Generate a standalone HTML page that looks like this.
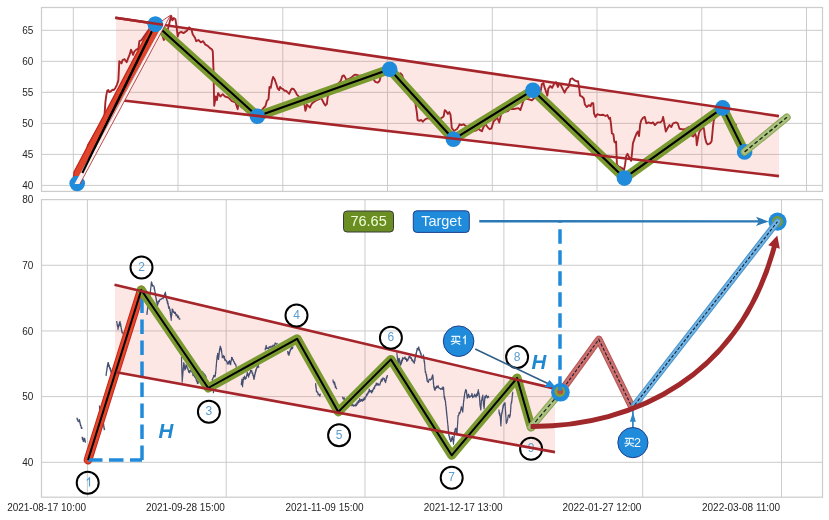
<!DOCTYPE html>
<html><head><meta charset="utf-8"><style>
html,body{margin:0;padding:0;background:#fff;width:829px;height:520px;overflow:hidden}
svg{display:block;filter:blur(0.25px)}
text{font-family:"Liberation Sans",sans-serif}
.tk{font-size:10px;fill:#262626}
.num{font-size:12px;fill:#5a9dd0}
.H{font-size:20.5px;font-weight:bold;font-style:italic;fill:#2189d0}
.lb{font-size:14.5px}
.bt{font-size:12.5px;fill:#f4f8ff}
</style></head><body>
<svg width="829" height="520" viewBox="0 0 829 520">
<rect width="829" height="520" fill="#fff"/>
<line x1="41.5" y1="185.4" x2="822.5" y2="185.4" stroke="#cbcbcb"/>
<line x1="41.5" y1="154.38" x2="822.5" y2="154.38" stroke="#cbcbcb"/>
<line x1="41.5" y1="123.36" x2="822.5" y2="123.36" stroke="#cbcbcb"/>
<line x1="41.5" y1="92.34" x2="822.5" y2="92.34" stroke="#cbcbcb"/>
<line x1="41.5" y1="61.32" x2="822.5" y2="61.32" stroke="#cbcbcb"/>
<line x1="41.5" y1="30.3" x2="822.5" y2="30.3" stroke="#cbcbcb"/>
<line x1="73.3" y1="7.5" x2="73.3" y2="191.4" stroke="#cbcbcb"/>
<line x1="178.0" y1="7.5" x2="178.0" y2="191.4" stroke="#cbcbcb"/>
<line x1="282.8" y1="7.5" x2="282.8" y2="191.4" stroke="#cbcbcb"/>
<line x1="387.5" y1="7.5" x2="387.5" y2="191.4" stroke="#cbcbcb"/>
<line x1="492.3" y1="7.5" x2="492.3" y2="191.4" stroke="#cbcbcb"/>
<line x1="597.0" y1="7.5" x2="597.0" y2="191.4" stroke="#cbcbcb"/>
<line x1="701.8" y1="7.5" x2="701.8" y2="191.4" stroke="#cbcbcb"/>
<line x1="806.5" y1="7.5" x2="806.5" y2="191.4" stroke="#cbcbcb"/>
<line x1="41.5" y1="462.3" x2="822.5" y2="462.3" stroke="#cbcbcb"/>
<line x1="41.5" y1="396.62" x2="822.5" y2="396.62" stroke="#cbcbcb"/>
<line x1="41.5" y1="330.95" x2="822.5" y2="330.95" stroke="#cbcbcb"/>
<line x1="41.5" y1="265.27" x2="822.5" y2="265.27" stroke="#cbcbcb"/>
<line x1="87.4" y1="199.6" x2="87.4" y2="497.2" stroke="#cbcbcb"/>
<line x1="226.2" y1="199.6" x2="226.2" y2="497.2" stroke="#cbcbcb"/>
<line x1="365.0" y1="199.6" x2="365.0" y2="497.2" stroke="#cbcbcb"/>
<line x1="503.9" y1="199.6" x2="503.9" y2="497.2" stroke="#cbcbcb"/>
<line x1="642.7" y1="199.6" x2="642.7" y2="497.2" stroke="#cbcbcb"/>
<line x1="781.5" y1="199.6" x2="781.5" y2="497.2" stroke="#cbcbcb"/>
<rect x="41.5" y="7.5" width="781" height="183.9" fill="none" stroke="#cdcdcd" stroke-width="1.25"/>
<rect x="41.5" y="199.6" width="781" height="297.6" fill="none" stroke="#cdcdcd" stroke-width="1.25"/>
<text x="33.3" y="189" text-anchor="end" class="tk">40</text>
<text x="33.3" y="157.98" text-anchor="end" class="tk">45</text>
<text x="33.3" y="126.96" text-anchor="end" class="tk">50</text>
<text x="33.3" y="95.94" text-anchor="end" class="tk">55</text>
<text x="33.3" y="64.92" text-anchor="end" class="tk">60</text>
<text x="33.3" y="33.9" text-anchor="end" class="tk">65</text>
<text x="33.3" y="465.9" text-anchor="end" class="tk">40</text>
<text x="33.3" y="400.23" text-anchor="end" class="tk">50</text>
<text x="33.3" y="334.55" text-anchor="end" class="tk">60</text>
<text x="33.3" y="268.88" text-anchor="end" class="tk">70</text>
<text x="33.3" y="203.2" text-anchor="end" class="tk">80</text>
<text x="86.1" y="511.3" text-anchor="end" class="tk">2021-08-17 10:00</text>
<text x="224.9" y="511.3" text-anchor="end" class="tk">2021-09-28 15:00</text>
<text x="363.7" y="511.3" text-anchor="end" class="tk">2021-11-09 15:00</text>
<text x="502.6" y="511.3" text-anchor="end" class="tk">2021-12-17 13:00</text>
<text x="641.4" y="511.3" text-anchor="end" class="tk">2022-01-27 12:00</text>
<text x="780.2" y="511.3" text-anchor="end" class="tk">2022-03-08 11:00</text>
<polygon points="116,17.8 779,116.11 779,176.09 116,99.63" fill="rgba(235,110,95,0.17)"/>
<polyline points="88.5,158 87,149 88,145 91,140 95,133 100,125 104.4,116.5 105.4,102.1 106.3,95.4 107.3,90.6 108.3,90.1 109.2,92 110.7,91.5 112.6,89.6 113.6,90.1 114.5,89.1 115.5,87.7 116.9,84.8 117.9,81.9 118.4,80 119.3,61.3 121.5,63.4 122.5,60.2 124.6,59.2 126.7,62.3 127.8,59.2 129.9,53.9 131,49.6 133.1,54.9 134.2,51.7 136.3,49.6 138.4,48.6 139.4,41.2 141.6,40.1 145,35 150,28 155,22 160,30 162.7,36.5 163.8,40 165,36.5 167.3,31.9 170.3,19.2 171.2,15.8 172.4,20.4 173.8,18.1 175.4,19.2 176.5,26.2 177.7,36.5 178.8,33.1 181.2,31.9 183.5,33.1 186.9,30.8 189.2,27.3 191.5,29.6 192.7,34.2 195,37.7 196.2,41.2 198.5,40 200.8,42.3 203.1,41.2 205.4,44.6 207.7,45.8 210,48.1 211.8,49.2 212.8,51.5 213.5,70 214.2,105.8 215.8,96.5 216.9,100 218.1,93.1 220.4,96.5 222.7,94.2 225,96.5 228.5,97.7 231.9,101.2 235.4,102.3 237.7,109.2 238.8,102.3 241.2,106.9 244.6,109.2 246.9,111.5 249.2,112.7 253,114 258,112 262,110 263.8,107.7 265.4,106.2 266.9,100.8 268.5,99.2 269.5,86.9 270.8,87.7 272,80.8 273.1,76.9 274.6,79.2 276.2,83.8 277.7,88.5 279.2,90 280,86.9 281.5,88.5 283.1,89.2 284.6,90.8 286.2,90.8 287.7,92.3 289.2,93.8 290.8,90 292.3,88.5 293.8,89.2 295.4,91.5 296.9,94.6 298.5,96.2 301,100 303.8,103.1 304.6,105.4 305.4,110.8 306.2,108.5 306.9,104.6 308.5,106.2 310,107.7 310.8,105.4 312.3,103.1 314.6,101.5 316.9,100 319.2,99.2 320.8,97.7 322.3,100 323.8,103.1 325.4,105.4 326.9,103.8 327.7,96.9 330,92 334,88 338,84 340.8,80.8 342.3,76.2 343.8,75.4 345.4,77.7 346.2,80 349,79 352,77 353.8,75.4 355.4,74.6 358.5,75.4 362,76 366,77 370,77.5 373.5,79.2 375.2,81.8 377.8,82.7 379.5,81 381.3,74 385,71 390,70 395,72 398.6,74.9 400.3,73.2 402,74.9 402.9,77.5 405,85 407.5,92 409.8,96.6 411.6,99.2 413.3,100 415.4,103.5 416.8,112.1 417.6,119.9 419.4,120.8 421.1,119.9 422.8,121.7 425.4,119.1 428,118.2 432,119 436,121 440,119 443.6,116.5 444.8,110.1 446.2,111.3 447.9,113.9 449.3,112.1 450.5,114.7 451.4,123.4 451.7,127.7 454,131 457,129 458.3,126.9 459.7,124.3 461.4,125.1 463.5,124.3 467,127 470,129 473.9,131.2 476.5,130.3 479.1,128.6 480,130.2 481.9,131.2 483.8,126.3 485.8,124.4 487.7,127.3 489.6,129.2 491.5,128.3 493.5,121.5 495.4,119.6 497.3,117.7 499.2,122.5 501.2,113.8 504,112 507.9,111 509.8,109 514,109 518.5,108.1 520.4,110 522.3,104.2 524.2,98.5 528,99 531.9,100.4 533.8,98.5 537.7,96.5 540.6,91.7 541.9,84 543.5,83.1 544.4,86.9 545.4,89.8 547.3,95.6 548.3,88.8 550.2,86 552.1,87.9 554,84 556,82.1 557.9,86.9 558.8,84 560.8,85 562.7,88.8 564.6,92.7 566.5,88.8 568.5,86.9 570.4,79.2 572.3,78.3 574.2,80.2 576.2,81.2 578.1,81.2 579,86.9 580,95.6 581.9,96.5 583.8,98.5 584.8,104.2 586.7,107.1 588.7,105.2 590.6,106.2 591.8,103.2 593.3,103.2 594,113.3 595.5,116.9 597.3,114.2 600,115.1 602.8,114.7 605.5,116 607.4,115.1 609.2,118.8 610.1,117.8 611,124.2 611.9,133.4 613.4,134.3 614.3,141.6 615.2,142.5 616.1,141.6 616.9,164.4 618.3,166.3 620.1,167.2 622,168.1 622.9,169 624,170 625.1,164.4 626.2,156.2 627.5,153.8 628.7,156.2 630.2,159 631.1,160.8 632,153.5 632.9,143.4 634.8,137.9 636.6,133.4 637.9,131.5 639,136.1 640.2,124.2 641.2,120.6 643,117.8 644.8,116.9 646.3,123.3 648.5,122.4 651.2,123.3 653,122.4 654.9,125.1 657.6,122.4 660.3,122.4 662.2,120.6 663.1,116.9 664,121.5 665.8,131.5 667.7,127.9 669.5,125.1 671.3,127 673.1,123.3 675.9,122.4 677.7,123.3 679.5,128.8 683,129.5 685.9,128.8 688.7,127 691.4,135.2 692.1,135.8 693.5,136.5 694.8,133.1 696.2,136.5 696.8,145.2 697.5,141.2 698.9,133.1 700.2,130.4 702.2,128.4 703.6,127.7 704.2,130.4 704.9,137.1 706.3,142.5 707.6,144.5 709,143.9 710.3,143.2 711.6,141.2 712.3,134.4 713,126.4 713.7,121 714.3,119 718,114 722,110 728,116 733,122 736.6,125.7" fill="none" stroke="#a5252a" stroke-width="1.9" stroke-linejoin="round"/>
<polygon points="72.8,183.5 74.03,172 150.94,26 162.22,26 76.8,183.5" fill="#e0442a"/>
<polyline points="72.8,183.5 74.03,172 150.94,26" fill="none" stroke="#c4261c" stroke-width="1.3"/>
<line x1="77.2" y1="183.5" x2="155.4" y2="24.2" stroke="#000" stroke-width="2.1"/>
<polyline points="155.4,24.2 257.4,116.2 389.7,69.3 453.4,139.3 532.9,90.2 624.4,178.1 722.7,107.9 744.6,151.9" fill="none" stroke="#7a9a30" stroke-width="9.5" stroke-linejoin="round" stroke-linecap="round"/>
<polyline points="155.4,24.2 257.4,116.2 389.7,69.3 453.4,139.3 532.9,90.2 624.4,178.1 722.7,107.9 744.6,151.9" fill="none" stroke="#000" stroke-width="2.1" stroke-linejoin="round"/>
<circle cx="77.2" cy="183.5" r="7.8" fill="#1f8bda"/>
<circle cx="155.4" cy="24.2" r="7.8" fill="#1f8bda"/>
<circle cx="257.4" cy="116.2" r="7.8" fill="#1f8bda"/>
<circle cx="389.7" cy="69.3" r="7.8" fill="#1f8bda"/>
<circle cx="453.4" cy="139.3" r="7.8" fill="#1f8bda"/>
<circle cx="532.9" cy="90.2" r="7.8" fill="#1f8bda"/>
<circle cx="624.4" cy="178.1" r="7.8" fill="#1f8bda"/>
<circle cx="722.7" cy="107.9" r="7.8" fill="#1f8bda"/>
<circle cx="744.6" cy="151.9" r="7.8" fill="#1f8bda"/>
<line x1="115.3" y1="17.7" x2="779" y2="116.11" stroke="#a5252a" stroke-width="2.6"/>
<line x1="121" y1="100.21" x2="779" y2="176.09" stroke="#a5252a" stroke-width="2.6"/>
<polygon points="74.53,184 79.87,184 170.5,15.2 161.5,21.2 160.33,28" fill="#fdf1ef"/>
<polyline points="79.87,184 170.5,15.2 161.5,21.2" fill="none" stroke="#a5252a" stroke-width="0.8" stroke-linejoin="miter"/>
<line x1="94.17" y1="150" x2="159.25" y2="30" stroke="#a5252a" stroke-width="0.6"/>
<line x1="82.35" y1="173" x2="147.64" y2="40" stroke="#000" stroke-width="2.1"/>
<circle cx="155.4" cy="24.2" r="7.8" fill="#1f8bda"/>
<line x1="115.3" y1="17.7" x2="163" y2="24.77" stroke="#a5252a" stroke-width="2.6"/>
<line x1="744.6" y1="151.9" x2="786.9" y2="117.3" stroke="#8ea75a" stroke-width="7.6" stroke-linecap="round"/>
<line x1="744.6" y1="151.9" x2="786.9" y2="117.3" stroke="#abc380" stroke-width="5.4" stroke-linecap="round"/>
<line x1="744.6" y1="151.9" x2="786.9" y2="117.3" stroke="#1e2410" stroke-width="1.4" stroke-dasharray="4 2.4"/>
<polygon points="115,284.93 555,388.64 555,452.14 115,372.08" fill="rgba(235,110,95,0.17)"/>
<polyline points="76.9,417.67 77.3,419.81 77.7,419.05 78.1,421.51 78.5,420.99 79,421.79 79.5,419.61 79.7,421.97 79.9,421.63 80.1,423.88 80.3,423.59 80.5,425.44 80.9,425.09 81.3,428.28 81.7,427.37 82.1,428.8" fill="none" stroke="#454f70" stroke-width="1.2" stroke-linejoin="round"/>
<polyline points="82.1,436.79 82.45,439.42 82.8,437.67 83.15,441.16 83.5,440.17 83.83,441.57 84.17,438.62 84.5,439.42 84.72,438.23 84.94,440.34 85.16,440.29 85.38,442.39 85.6,442.6" fill="none" stroke="#454f70" stroke-width="1.2" stroke-linejoin="round"/>
<polyline points="99.4,405.54 99.6,408.34 99.8,407.61 100,410.7 100.2,409.65 100.4,412.36 100.6,411.82 100.8,413.51 101,413.42 101.25,416.19 101.5,415.13 101.75,417.72 102,416.93 102.25,419.9 102.5,419.3 102.69,422.25 102.88,420.6 103.07,423.36 103.26,422.58 103.45,425.54 103.65,424.01 103.84,427.62 104.03,426.58 104.22,429.76 104.41,428.62 104.6,430" fill="none" stroke="#454f70" stroke-width="1.2" stroke-linejoin="round"/>
<polyline points="106,374.14 106.15,375.37 106.31,372.64 106.46,373.18 106.62,370.94 106.77,371.56 106.92,368.16 107.08,369.59 107.23,366.17 107.38,367.41 107.54,364.56 107.69,365.93 107.85,362.86 108,363.9 108.4,362.6 108.8,366.53 109.2,365.07 109.6,368.17 110,367.6 110.3,370.12 110.6,368.65 110.9,372.29 111.2,370.23 111.5,373.18 111.8,372.59 112.1,375.48 112.4,374.85 112.7,377.01 113,377" fill="none" stroke="#454f70" stroke-width="1.2" stroke-linejoin="round"/>
<polyline points="116.7,320.96 116.89,322.9 117.07,322.96 117.26,325.59 117.44,324.73 117.63,326.78 117.81,326.25 118,329.44 118.29,326.72 118.57,327.18 118.86,324.41 119.14,326.02 119.43,322.35 119.71,324.28 120,321.32 120.18,323.76 120.36,323.04 120.55,326.18 120.73,324.09 120.91,327.06 121.09,326.91 121.27,328.98 121.45,328.65 121.64,331.12 121.82,330.02 122,332.66 122.68,332.35 123.36,334.22 124.04,333.25 124.72,335.76 125.4,335.4" fill="none" stroke="#454f70" stroke-width="1.2" stroke-linejoin="round"/>
<polyline points="146.9,312.66 147.02,314.48 147.14,311.38 147.26,312.55 147.38,309.33 147.5,309.99 147.62,307.21 147.74,309.08 147.86,305.4 147.98,307.26 148.1,304.18 148.27,304.92 148.45,302.73 148.62,303.4 148.79,300.96 148.96,300.86 149.14,298.96 149.31,299.16 149.48,296.97 149.65,297.21 149.83,295.59 150,295.51 150.11,293.61 150.21,293.91 150.32,291.84 150.43,292.7 150.54,289.22 150.64,289.9 150.75,287.81 150.86,288.28 150.96,285.79 151.07,286.12 151.18,283.3 151.29,285.36 151.39,281.92 151.5,282.84 151.74,282.39 151.98,284.19 152.22,283.9 152.46,286.24 152.7,285.12 153.8,285.93 153.97,286.01 154.14,288.86 154.31,287.28 154.48,289.75 154.65,289.18 154.82,291.51 154.99,291.12 155.16,294.65 155.33,292.61 155.5,296.21 155.66,295.25 155.83,297.61 155.99,297.19 156.15,299.94 156.32,298.54 156.48,301.77 156.65,300.62 156.81,302.88 156.97,301.82 157.14,305.67 157.3,303.59 157.6,305.48 157.9,301.88 158.2,303.64 158.5,300.89 159.27,301.72 160.03,299.19 160.8,299.56 161.95,298.29 163.1,298.78 163.56,296.53 164.02,297.47 164.48,293.8 164.94,295.31 165.4,291.98 165.58,296.03 165.77,293.86 165.95,297.14 166.13,296.7 166.32,298.86 166.5,298.63 166.8,300.66 167.1,299.83 167.4,303.3 167.7,301.3 167.92,304.55 168.14,303.38 168.36,306.8 168.58,305.95 168.8,308.47 169.4,306.97 170,310.92 170.12,309.24 170.24,312.37 170.36,311.81 170.48,314.61 170.6,313.45 170.72,316.47 170.84,314.48 170.96,317.79 171.08,317.05 171.2,320.33 171.31,316.63 171.42,317.5 171.53,315.56 171.64,315.63 171.75,312.72 171.86,314.63 171.97,311.85 172.08,312.82 172.19,308.95 172.3,310.76 172.88,309.71 173.45,312.37 174.03,311.74 174.6,313.44 175.37,312.3 176.13,315.78 176.9,314.41 177.67,317.68 178.43,316.06 179.2,319.14 180.4,318.8" fill="none" stroke="#454f70" stroke-width="1.2" stroke-linejoin="round"/>
<polyline points="181.5,356.72 181.53,359.61 181.56,359.31 181.58,361.57 181.61,361.17 181.64,363.79 181.67,362.99 181.7,365.42 181.72,365 181.75,367.9 181.78,366.57 181.81,369.17 181.84,368.12 181.86,371.59 181.89,370.18 181.92,373.45 181.95,371.92 181.98,374.81 182,373.74 182.03,376 182.06,375.7 182.09,378.06 182.12,378.1 182.14,380.69 182.17,379.74 182.2,382.13 182.28,379.03 182.36,380.38 182.44,377.69 182.52,378.48 182.6,375.54 182.68,376.97 182.76,374.27 182.84,374.84 182.92,372.24 183,372.62 183.08,369.72 183.16,371.07 183.24,368.14 183.32,369.54 183.4,365.84 183.48,367.29 183.56,364.37 183.64,365.52 183.72,362.65 183.8,363.91 183.97,362.79 184.14,365.67 184.31,364.73 184.49,368.17 184.66,366.41 184.83,370.06 185,368.07 185.24,369.33 185.48,366.72 185.72,368.37 185.96,364.52 186.2,365.5 186.75,365.67 187.3,368.19 187.64,367.83 187.98,369.81 188.32,369.71 188.66,372.24 189,370.68 189.67,372.8 190.33,370.15 191,371.24 191.5,369.83 192,372.5 192.5,371.55 193,375.56 193.8,374.23 194.6,377.21 195.4,375.67 195.69,378.32 195.97,376.66 196.26,380.51 196.55,379.47 196.84,381.75 197.12,380.77 197.41,383.38 197.7,382.93 198.08,383.31 198.47,380.42 198.85,381.09 199.23,378.8 199.62,379.8 200,377.66 200.33,377.87 200.66,375.14 200.99,376.36 201.31,374.11 201.64,375.22 201.97,371.44 202.3,373.46 202.87,372.15 203.43,373.96 204,373.63 204.6,376.15 205.2,375 205.8,376.99 205.96,376.64 206.11,379.99 206.27,378.13 206.43,381.15 206.59,380.99 206.74,384 206.9,383.5" fill="none" stroke="#454f70" stroke-width="1.2" stroke-linejoin="round"/>
<polyline points="212,378.95 212.45,380.34 212.9,377.82 213.35,377.77 213.8,375.3 215,376.96 215.18,374.69 215.35,375.62 215.52,371.97 215.7,373.45 215.78,370.75 215.86,371.67 215.94,368.92 216.02,369.82 216.11,366.57 216.19,367.3 216.27,364.6 216.35,366.21 216.43,363.11 216.51,363.34 216.59,360.93 216.68,361.63 216.76,359.61 216.84,359.68 216.92,357.84 217,357.88 217.23,355.68 217.47,356.21 217.7,353.31 217.82,356.19 217.93,355.44 218.05,357.85 218.17,357.44 218.28,359.44 218.4,359.36 218.51,359.44 218.62,356.94 218.72,358.33 218.83,355.84 218.94,356.43 219.05,353.08 219.16,354.16 219.27,351.43 219.38,352.77 219.48,350.05 219.59,351.49 219.7,348.38 219.93,349.27 220.17,346.2 220.4,348.08 220.68,346.77 220.95,349.94 221.22,348.35 221.5,351.73 221.63,350.72 221.76,353.28 221.89,353.08 222.01,354.91 222.14,354.98 222.27,357.61 222.4,356.65 223.05,357.13 223.7,355.47 224.05,358.32 224.4,356.52 224.75,360.15 225.1,359.32 226.4,361.33 226.87,361.1 227.33,363.81 227.8,363.48 228.23,363.99 228.67,361.54 229.1,362.85 229.57,360.64 230.03,364.12 230.5,363.37 230.69,364.6 230.87,361.37 231.06,361.9 231.24,359.85 231.43,360.02 231.61,357.33 231.8,358.26 232.27,357.62 232.73,360.07 233.2,359.67 233.63,361.56 234.07,361.37 234.5,363.53 234.97,363.23 235.43,364.85 235.9,364.69 236.2,367.02 236.5,367.4" fill="none" stroke="#454f70" stroke-width="1.2" stroke-linejoin="round"/>
<polyline points="213.4,391.63 213.43,392.74 213.46,389.51 213.49,390.99 213.51,387.63 213.54,389.36 213.57,386.14 213.6,386" fill="none" stroke="#454f70" stroke-width="1.2" stroke-linejoin="round"/>
<polyline points="241.2,383.46 241.38,384.78 241.55,381.69 241.72,382.45 241.9,379.06 242.04,381.64 242.18,380.93 242.32,384.84 242.46,383.32 242.6,386.76 242.7,383.18 242.8,384.08 242.9,381.64 243,382.64 243.1,379.33 243.2,381.11 243.3,377.42 243.95,379.22 244.6,376.04 245.25,379.34 245.9,377.59 246.13,378.51 246.37,376.64 246.6,376.59 246.83,374.42 247.07,374.75 247.3,372.01 247.73,375.33 248.17,374.08 248.6,377.22 248.95,373.91 249.3,375.05 249.65,372.78 250,373.44 250.65,370.12 251.3,371.66 251.77,370.59 252.23,373.66 252.7,373 252.92,375.56 253.13,374.56 253.35,376.52 253.57,376.34 253.78,379.15 254,378.22 254.2,379.11 254.4,375.32 254.6,376.88 254.8,374.16 255,374.95 255.2,371.86 255.4,373.4 255.72,369.97 256.05,371.19 256.38,368.61 256.7,368.51 257.17,366.49 257.63,367.54 258.1,364.69 258.75,367.1 259.4,366.7" fill="none" stroke="#454f70" stroke-width="1.2" stroke-linejoin="round"/>
<polyline points="264.8,350.26 265.12,349.97 265.45,347.89 265.78,348.71 266.1,345.29 266.8,348.68 267.5,347.81 268.33,348.98 269.17,346.59 270,347.92 271,346.03 272,347.46 273.1,345.02 274.2,346.77 275.2,342.98 276.2,344.14 277.6,343.2" fill="none" stroke="#454f70" stroke-width="1.2" stroke-linejoin="round"/>
<polyline points="287.6,350.99 288.07,354.17 288.53,352.14 289,355.5 289.32,352.94 289.65,353.19 289.98,350.07 290.3,351.19 290.77,348.64 291.23,349.3 291.7,346.91 292.35,348.74 293,346.5" fill="none" stroke="#454f70" stroke-width="1.2" stroke-linejoin="round"/>
<polyline points="315.6,383.11 315.71,385.97 315.83,384.63 315.94,388.06 316.06,386.38 316.17,389.22 316.29,388.13 316.4,391.54 316.85,391.1 317.3,392.62 317.75,392.2 318.2,394.9 319.05,394.14 319.9,396.2 320.35,394.09 320.8,394" fill="none" stroke="#454f70" stroke-width="1.2" stroke-linejoin="round"/>
<polyline points="332.9,379.48 333.32,382.45 333.75,381.58 334.18,384.03 334.6,382.21 334.83,384.95 335.05,383.84 335.27,387.46 335.5,385.63 336.35,388.64 337.2,388.8" fill="none" stroke="#454f70" stroke-width="1.2" stroke-linejoin="round"/>
<polyline points="342.4,396.7 343.25,399.17 344.1,397.6 344.95,401.12 345.8,400.12 346.67,402.37 347.53,401.43 348.4,403.08 349.27,402.67 350.15,404.94 351.02,403.29 351.9,405.92 352.77,404.33 353.63,406.19 354.5,405.13 355.15,406.01 355.8,404 356.45,405.69 357.1,402.05 357.75,404.01 358.4,400.67 359.05,402.44 359.7,398.58 360.57,401.39 361.43,399.39 362.3,401.28 362.95,398.99 363.6,400.5 364.25,397.67 364.9,399.44 365.47,396.75 366.03,396.95 366.6,394.19 367.03,395.33 367.47,393.08 367.9,393.91 368.33,391.6 368.77,392.72 369.2,389.03 370.07,391.82 370.93,390.57 371.8,393.01 372.23,390.4 372.67,391.39 373.1,389.17 373.53,389.36 373.97,387.38 374.4,388.58 375.05,385.27 375.7,385.95 376.35,382.99 377,385.2 377.87,383.3 378.73,385.3 379.6,384.83 379.88,384.97 380.17,382.91 380.45,383.24 380.73,381.31 381.02,381.72 381.3,379.15 382.17,381.06 383.03,377.72 383.9,379.25 384.32,378.43 384.75,381.14 385.18,380.22 385.6,382.65 385.86,380.51 386.11,380.6 386.37,377.38 386.63,378.44 386.89,376.01 387.14,377.11 387.4,375" fill="none" stroke="#454f70" stroke-width="1.2" stroke-linejoin="round"/>
<polyline points="396.9,352.38 397.02,355.33 397.14,354.99 397.26,357.23 397.38,356.69 397.5,359.34 397.62,357.84 397.74,361.72 397.86,359.8 397.98,362.52 398.1,362.74 398.32,363.41 398.54,359.79 398.76,361.27 398.98,358.35 399.2,358.82 399.37,358.66 399.54,361.98 399.71,360.08 399.89,363.86 400.06,361.86 400.23,365.05 400.4,364.94 400.69,365.06 400.97,362.69 401.26,364.01 401.55,360.42 401.84,362.33 402.12,359.08 402.41,360.66 402.7,357.59 403.85,358.93 405,356.93 405.57,359.5 406.15,358.43 406.73,361.42 407.3,359.65 407.76,360.59 408.22,358.48 408.68,358.68 409.14,355.99 409.6,357.41 410.18,356.59 410.75,358.31 411.32,357.76 411.9,360.67 412.47,359.66 413.05,361.96 413.62,361.14 414.2,363.43 414.4,361.43 414.6,362.08 414.8,358.65 415,360.38 415.2,356.82 415.4,358.23 415.6,355.78 415.8,356.14 416,353.05 416.2,354.92 416.4,352.09 416.6,352.25 416.8,350.04 417,351.28 417.2,348.34 418,349.3 418.8,346.93 419.1,350.45 419.4,349.19 419.7,351.01 420,350.75 420.29,353.23 420.57,352.06 420.86,354.7 421.15,353.66 421.44,357.14 421.73,355.78 422.01,358.21 422.3,356.94 422.9,358.07 423.5,354.83 423.66,357.8 423.81,357.57 423.97,360.45 424.13,359.45 424.29,362.67 424.44,361.16 424.6,363.66 424.67,363.48 424.74,365.93 424.81,364.89 424.89,368.58 424.96,367.52 425.03,369.84 425.1,369.41 425.33,372.53 425.57,371.43 425.8,373.29 426.03,373.47 426.27,375.66 426.5,374.33 426.65,378.2 426.8,376.44 426.95,380.25 427.1,378.09 427.25,381.29 427.4,380.94 428.3,382.47 429.2,379.12 430.35,380.16 431.5,378.03 431.74,379.08 431.98,376.56 432.22,377.18 432.46,374.98 432.7,374.92 432.79,374.89 432.88,377.3 432.98,375.96 433.07,378.95 433.16,377.88 433.25,380.99 433.34,380.59 433.43,383.7 433.52,381.93 433.62,385.14 433.71,384.85 433.8,387.13 434.1,386.25 434.4,389.4 434.7,388.18 435,390.39 435.57,387.28 436.15,388.26 436.73,386.2 437.3,387.56 438.07,385.67 438.83,388.11 439.6,388.14 440.75,389.45 441.9,388.1 442.43,389.48 442.97,386.79 443.5,388.77 443.57,387.47 443.64,389.81 443.71,388.51 443.78,392.09 443.85,391.24 443.92,394.06 443.99,393.01 444.06,395.33 444.13,395.26 444.2,397.79 444.44,395.95 444.68,399.51 444.92,397.79 445.16,400.61 445.4,400.58 445.5,403.06 445.6,401.53 445.7,405.55 445.8,404.13 445.9,406.52 446,405.95 446.1,408.71 446.2,407.18 446.3,410.18 446.4,409.22 446.5,412.77 446.6,411.09 446.7,414.74 446.8,413.3 446.9,416.11 447,415.6 447.1,418.08 447.2,416.95 447.3,419.65 447.4,419.63 447.5,422.45 447.6,421.5 447.7,423.5 447.79,423.69 447.88,426.04 447.98,425.24 448.07,428.51 448.16,426.44 448.25,430.43 448.34,429.15 448.43,431.19 448.52,431.28 448.62,433.64 448.71,432.41 448.8,435.49 449.04,434.9 449.28,437.29 449.52,436.25 449.76,439.46 450,437.92 450.6,441.75 451.2,440.33 451.42,441.06 451.64,438.26 451.86,439.44 452.08,436.77 452.3,437.7 452.5,436.6 452.7,439.41 452.9,439.16 453.1,441.4 453.3,441.22 453.5,444.15 453.6,440.69 453.7,441.55 453.8,439.04 453.9,440.51 454,437 454.1,437.64 454.2,434.73 454.3,436.29 454.4,432.6 454.5,433.7 454.6,431.37 454.84,432.75 455.08,429.06 455.32,431.03 455.56,428.25 455.8,428.4 455.96,428.21 456.11,430.23 456.27,429.09 456.43,432.71 456.59,431.12 456.74,434.41 456.9,433.17 456.96,434.57 457.02,432.11 457.08,433.16 457.14,429.39 457.2,430.46 457.26,428 457.32,429.27 457.38,426.64 457.44,427.11 457.5,424.9 457.56,425.06 457.62,422.91 457.68,423.73 457.74,420.57 457.8,421.38 457.86,419.55 457.92,419.7 457.98,416.85 458.04,417.68 458.1,415.48 458.65,415.58 459.2,412.46 459.8,413.67 460.4,411.1 460.62,411.03 460.84,408.83 461.06,409.76 461.28,406.68 461.5,407.34 461.74,407.29 461.98,409.95 462.22,408.82 462.46,411.26 462.7,410.79 462.79,412.08 462.88,408.86 462.98,409.67 463.07,406.89 463.16,407.56 463.25,404.32 463.34,406.39 463.43,403.05 463.52,403.45 463.62,400.66 463.71,401.54 463.8,399.67 463.93,400.57 464.07,397.34 464.2,398.67 464.33,395.56 464.47,396.95 464.6,393.69 464.73,394.23 464.87,392.46 465,392.93 465.6,389.61 466.2,391.08 466.32,390.07 466.44,392.52 466.57,391.51 466.69,394.17 466.81,393.59 466.93,395.68 467.06,394.91 467.18,398.3 467.3,397.24 467.9,397.5 468.5,394.05 469.65,397.51 470.8,395.93 471.4,396.23 472,393.47 472.7,397.57 473.4,396.06 474.05,396.74 474.7,394.19 476.1,397.12 476.75,393.82 477.4,395.41 477.7,391.82 478,392.63 478.3,389.67 478.48,392.49 478.67,391.93 478.85,395.05 479.03,393.15 479.22,395.97 479.4,395.7 479.47,398.07 479.54,397.2 479.61,399.93 479.68,399.58 479.75,401.64 479.82,400.69 479.89,404.35 479.96,403.45 480.03,405.8 480.1,404.41 480.28,407.09 480.45,406.36 480.62,409.25 480.8,408.71 480.86,409.88 480.92,406.8 480.98,407.69 481.04,405.18 481.1,406.17 481.16,403.3 481.22,404.38 481.28,401.39 481.34,402.22 481.4,400.05 481.75,400.49 482.1,397.4 482.45,397.95 482.8,395 482.88,398.52 482.96,397.19 483.03,399.55 483.11,398.97 483.19,401.26 483.27,401.22 483.34,403.47 483.42,403.06 483.5,405.29 483.65,404.43 483.8,406.77 483.95,406.27 484.1,408.83 484.16,406.17 484.23,407.77 484.29,404.51 484.35,404.9 484.42,402.57 484.48,403.37 484.55,400.05 484.61,401.11 484.67,398.23 484.74,400.27 484.8,396.44 485.45,398.06 486.1,395.13 487.5,397.88 488.15,396.05 488.8,397.7" fill="none" stroke="#454f70" stroke-width="1.2" stroke-linejoin="round"/>
<polyline points="498.9,409.56 499.13,413.49 499.37,412.37 499.6,415.13 499.83,413.19 500.07,416 500.3,415.73 500.36,418.73 500.42,417.86 500.48,420.79 500.54,419.59 500.6,422.56 500.66,421.64 500.72,424.04 500.78,422.52 500.84,425.55 500.9,425.24 500.95,425.94 501.01,423.31 501.06,423.47 501.12,421.62 501.17,421.77 501.22,418.8 501.28,420.57 501.33,416.99 501.38,418.06 501.44,415.27 501.49,416.13 501.55,413.73 501.6,414.93 501.83,412.12 502.07,413.44 502.3,410.07 502.49,411.21 502.67,407.74 502.86,408.68 503.04,405.68 503.23,407.44 503.41,404.53 503.6,405.74 504.3,403.04 505,404.59 505.06,402.84 505.12,405.58 505.18,404.4 505.23,407.49 505.29,406.95 505.35,409.67 505.41,408.92 505.47,411.57 505.52,410.46 505.58,413.14 505.64,411.32 505.7,414.87 505.76,413.57 505.82,416.4 505.88,416.3 505.94,417.92 506,417.99 506.06,420.55 506.12,419.51 506.18,422.3 506.24,420.79 506.3,423.69 506.65,421.59 507,422.36 507.35,419.85 507.7,419.52 507.85,417.43 508,417.66 508.15,415.42 508.3,415.81 509,414.78 509.7,417.57 509.93,415.02 510.17,415.82 510.4,412.87 510.46,413.35 510.52,410.4 510.58,411.61 510.64,409.53 510.7,409.54 510.76,407.02 510.82,408.66 510.88,404.96 510.94,406.17 511,403.74 511.23,403.83 511.47,401.45 511.7,402.74 511.8,399.97 511.9,400.93 512,397.94 512.1,399.39 512.2,395.66 512.3,396.6 512.4,393.52 512.6,394.48 512.8,392.2 513,392.3" fill="none" stroke="#454f70" stroke-width="1.2" stroke-linejoin="round"/>
<line x1="88" y1="460" x2="141.3" y2="290" stroke="#c4261c" stroke-width="8.8" stroke-linecap="round"/>
<line x1="88" y1="460" x2="141.3" y2="290" stroke="#e4462a" stroke-width="6.800000000000001" stroke-linecap="round"/>
<line x1="88" y1="460" x2="142" y2="460" stroke="#1f8bda" stroke-width="3.5" stroke-dasharray="14.5 6.5"/>
<line x1="142" y1="460" x2="142" y2="290" stroke="#1f8bda" stroke-width="3.5" stroke-dasharray="14.5 6.5"/>
<polyline points="141.3,290 208.2,388 297.1,338.8 338.3,411.9 390.9,359.4 451.7,455.3 517.1,378 531.1,427" fill="none" stroke="#7a9a30" stroke-width="9" stroke-linejoin="round" stroke-linecap="round"/>
<polyline points="88,460 141.3,290 208.2,388 297.1,338.8 338.3,411.9 390.9,359.4 451.7,455.3 517.1,378 531.1,427" fill="none" stroke="#000" stroke-width="2" stroke-linejoin="round"/>
<line x1="114.5" y1="284.81" x2="555" y2="388.64" stroke="#a5252a" stroke-width="2.6"/>
<circle cx="87.7" cy="482.8" r="11" fill="none" stroke="#000" stroke-width="2"/>
<path d="M86.8,480.4 L89.5,477.9 V486.4" fill="none" stroke="#5a9dd0" stroke-width="1.2"/>
<circle cx="141.5" cy="267.5" r="11" fill="none" stroke="#000" stroke-width="2"/>
<text x="141.5" y="271.1" text-anchor="middle" class="num">2</text>
<circle cx="208.9" cy="411.8" r="11" fill="none" stroke="#000" stroke-width="2"/>
<text x="208.9" y="415.4" text-anchor="middle" class="num">3</text>
<circle cx="296.5" cy="315.5" r="11" fill="none" stroke="#000" stroke-width="2"/>
<text x="296.5" y="319.1" text-anchor="middle" class="num">4</text>
<circle cx="339.1" cy="435.2" r="11" fill="none" stroke="#000" stroke-width="2"/>
<text x="339.1" y="438.8" text-anchor="middle" class="num">5</text>
<circle cx="390.9" cy="337.7" r="11" fill="none" stroke="#000" stroke-width="2"/>
<text x="390.9" y="341.3" text-anchor="middle" class="num">6</text>
<circle cx="451.7" cy="477.7" r="11" fill="none" stroke="#000" stroke-width="2"/>
<text x="451.7" y="481.3" text-anchor="middle" class="num">7</text>
<circle cx="517.1" cy="357" r="11" fill="none" stroke="#000" stroke-width="2"/>
<text x="517.1" y="360.6" text-anchor="middle" class="num">8</text>
<circle cx="531.1" cy="448.7" r="11" fill="none" stroke="#000" stroke-width="2"/>
<text x="531.1" y="452.3" text-anchor="middle" class="num">9</text>
<line x1="116.3" y1="372.31" x2="555" y2="452.14" stroke="#a5252a" stroke-width="2.6"/>
<text x="158.5" y="437.7" class="H">H</text>
<text x="531.5" y="368.7" class="H">H</text>
<line x1="531.1" y1="427" x2="560.4" y2="392.3" stroke="#8ea75a" stroke-width="7.6" stroke-linecap="round"/>
<line x1="531.1" y1="427" x2="560.4" y2="392.3" stroke="#abc380" stroke-width="5.4" stroke-linecap="round"/>
<line x1="531.1" y1="427" x2="560.4" y2="392.3" stroke="#222" stroke-width="1.2" stroke-dasharray="4 2.5"/>
<polyline points="560.4,392.3 598.8,339.4 631,405.1" fill="none" stroke="#b65858" stroke-width="7.5" stroke-linejoin="round" stroke-linecap="round"/>
<polyline points="560.4,392.3 598.8,339.4 631,405.1" fill="none" stroke="#cd7070" stroke-width="5.3" stroke-linejoin="round" stroke-linecap="round"/>
<polyline points="560.4,392.3 598.8,339.4 631,405.1" fill="none" stroke="#1c1c28" stroke-width="1.1" stroke-dasharray="3.2 1.8"/>
<circle cx="560.4" cy="392.3" r="9.3" fill="#1f8bda"/>
<circle cx="559.8" cy="391.5" r="5.3" fill="#83a03a"/>
<circle cx="560.3" cy="391.4" r="2.9" fill="#b8503a"/>
<line x1="560" y1="390.7" x2="560" y2="222" stroke="#1f8bda" stroke-width="3.5" stroke-dasharray="14.5 6.5"/>
<circle cx="777.5" cy="221.6" r="9.1" fill="#1f8bda"/>
<circle cx="777.5" cy="221.6" r="5.6" fill="#7a9a30"/>
<line x1="634.6" y1="405" x2="777.5" y2="221.6" stroke="#4f95cc" stroke-width="6.8" stroke-linecap="round"/>
<line x1="634.6" y1="405" x2="777.5" y2="221.6" stroke="#70b5e4" stroke-width="4.6" stroke-linecap="round"/>
<line x1="634.6" y1="405" x2="777.5" y2="221.6" stroke="#15203a" stroke-width="1.1" stroke-dasharray="3.2 1.8"/>
<line x1="632.9" y1="427.5" x2="632.9" y2="407" stroke="#2a86c4" stroke-width="1.7"/>
<polygon points="632.9,412.5 629.9,421.8 635.9,421.8" fill="#2a86c4"/>
<path d="M530.6,426.4 C635,427.1 742,375.3 775.5,242" fill="none" stroke="#a0282a" stroke-width="5"/>
<polygon points="777.3,235.4 768.2,245.2 779.8,248.8" fill="#a0282a"/>
<line x1="479.3" y1="221.3" x2="766" y2="221.4" stroke="#2a78b4" stroke-width="2.4"/>
<polygon points="768.5,221.4 756,216.8 759,221.4 756,226" fill="#2a78b4"/>
<line x1="475.2" y1="349" x2="552" y2="385.5" stroke="#2f5f86" stroke-width="1.6"/>
<polygon points="556,387.6 544.5,387 549.5,380" fill="#1f8bda"/>
<circle cx="458.6" cy="341.2" r="15.3" fill="#1f8bda" stroke="#1e3f8a" stroke-width="1"/>
<path d="M451.3,336.4 H459.6 V338.5 M452.8,337.8 L454,338.6 M452.4,339.2 L453.6,340 M455.8,336.9 V340.9 M450.8,341.3 H460.4 M455.8,341.3 Q455.2,343.3 451.3,344.5 M456.3,342.5 L460.2,344.5" fill="none" stroke="#eaf6ff" stroke-width="1.15" stroke-linecap="butt" stroke-linejoin="miter"/>
<path d="M463,338.4 L465.2,336.3 V344.2" fill="none" stroke="#eaf6ff" stroke-width="1.3"/>
<circle cx="632.9" cy="442.6" r="15.1" fill="#1f8bda" stroke="#1e3f8a" stroke-width="1"/>
<path d="M624.9,438.3 H633.2 V440.4 M626.4,439.7 L627.6,440.5 M626,441.1 L627.2,441.9 M629.4,438.8 V442.8 M624.4,443.2 H634 M629.4,443.2 Q628.8,445.2 624.9,446.4 M629.9,444.4 L633.8,446.4" fill="none" stroke="#eaf6ff" stroke-width="1.15" stroke-linecap="butt" stroke-linejoin="miter"/>
<text x="634.1" y="447" class="bt">2</text>
<rect x="343.5" y="211" width="50" height="21" rx="3.5" fill="#6b8e23" stroke="#3a3a3a" stroke-width="1"/>
<text x="368.6" y="226" text-anchor="middle" class="lb" fill="#f2ffd8">76.65</text>
<rect x="413.3" y="210.8" width="56" height="21.6" rx="3.5" fill="#1f8bda" stroke="#1e3f8a" stroke-width="1"/>
<text x="441.3" y="226" text-anchor="middle" class="lb" fill="#eef8ff">Target</text>
</svg></body></html>
